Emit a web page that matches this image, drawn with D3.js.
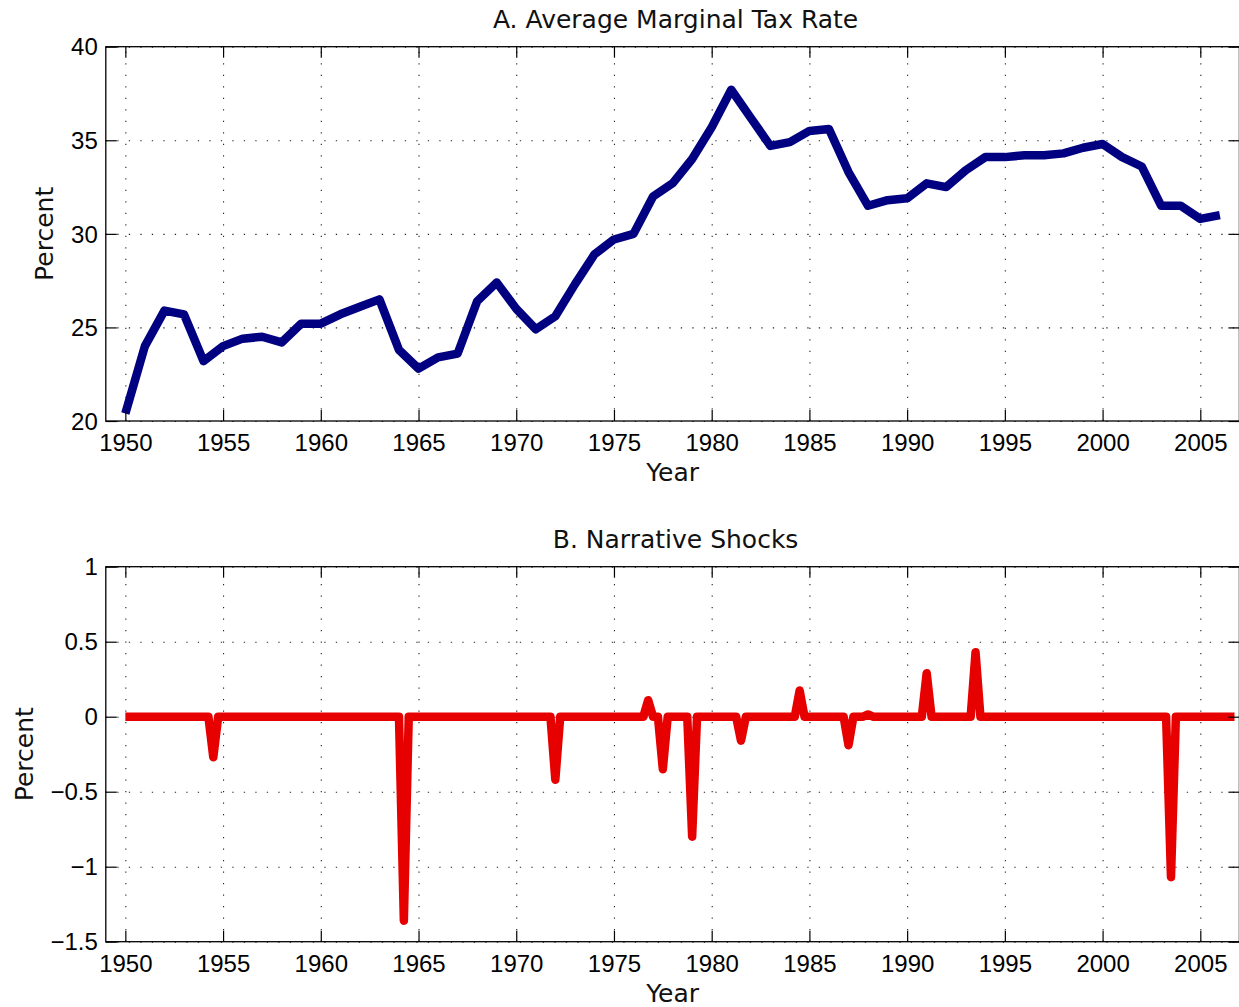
<!DOCTYPE html>
<html>
<head>
<meta charset="utf-8">
<script src="https://cdn.jsdelivr.net/npm/d3@7"></script>
<style>
  body { margin: 0; background: #fff; }
  .tick text { font-family: "Liberation Sans", Arial, sans-serif; font-size: 24px; fill: #000; }
  .label { font-family: "DejaVu Sans", sans-serif; font-size: 25px; fill: #111; }
  .grid line { stroke: #222; stroke-width: 1.1; stroke-dasharray: 1.3, 10.2; }
  .frame { fill: none; stroke: #000; stroke-width: 1.3; }
</style>
</head>
<body>
<div class="chart"></div>
<script>
// annual average marginal tax rate, 1950-2006
const years = d3.range(1950, 2007);
const amtr = [20.4, 24.0, 25.9, 25.7, 23.2, 24.0, 24.4, 24.5, 24.2, 25.2,
              25.2, 25.7, 26.1, 26.5, 23.8, 22.8, 23.4, 23.6, 26.4, 27.4,
              26.0, 24.9, 25.6, 27.3, 28.9, 29.7, 30.0, 32.0, 32.7, 34.0,
              35.7, 37.7, 36.2, 34.7, 34.9, 35.5, 35.6, 33.3, 31.5, 31.8,
              31.9, 32.7, 32.5, 33.4, 34.1, 34.1, 34.2, 34.2, 34.3, 34.6,
              34.8, 34.1, 33.6, 31.5, 31.5, 30.8, 31.0];

// quarterly narrative shocks (all other quarters are zero)
const shockDates  = ["1954Q3", "1964Q2", "1972Q1", "1976Q4", "1977Q3", "1979Q1", "1981Q3",
                     "1984Q3", "1987Q1", "1988Q1", "1991Q1", "1993Q3", "2003Q3"];
const shockValues = [-0.27, -1.36, -0.42, 0.11, -0.35, -0.80, -0.16,
                     0.175, -0.19, 0.015, 0.29, 0.43, -1.07];

const xTicks  = d3.range(1950, 2006, 5);
const yTicksA = [20, 25, 30, 35, 40];
const yTicksB = [-1.5, -1, -0.5, 0, 0.5, 1];

// build the quarterly table 1950Q1 .. 2006Q4
const shockMap = new Map(shockDates.map((d, i) => [d, shockValues[i]]));
const shocks = [];
years.forEach(y => {
  for (let q = 1; q <= 4; q++) {
    const v = shockMap.get(y + "Q" + q);
    shocks.push({ t: y + (q - 1) / 4, v: v === undefined ? 0 : v });
  }
});

const W = 1239, H = 1007;
const svg = d3.select(".chart").append("svg")
  .attr("width", W).attr("height", H);

const left = 105.8, right = 1239.4;
const x = d3.scaleLinear().domain([1949, 2007]).range([left, right]);

function panel(top, bottom, yDomain, yTicks, title, data, color) {
  const y = d3.scaleLinear().domain(yDomain).range([bottom, top]);
  const g = svg.append("g");
  const h = bottom - top, w = right - left;

  // dotted grid
  g.append("g").attr("class", "grid")
    .attr("transform", `translate(0,${bottom})`)
    .call(d3.axisBottom(x).tickValues(xTicks).tickSize(-h).tickFormat(""))
    .call(s => s.select(".domain").remove());
  g.append("g").attr("class", "grid")
    .attr("transform", `translate(${left},0)`)
    .call(d3.axisLeft(y).tickValues(yTicks).tickSize(-w).tickFormat(""))
    .call(s => s.select(".domain").remove());

  // data line
  const line = d3.line().x(d => x(d.t)).y(d => y(d.v));
  g.append("path")
    .datum(data)
    .attr("fill", "none")
    .attr("stroke", color)
    .attr("stroke-width", 8.5)
    .attr("stroke-linejoin", "round")
    .attr("d", line);

  // axes with inward ticks
  const tk = 11;
  const styleAxis = s => {
    s.select(".domain").remove();
    s.selectAll(".tick line").attr("stroke", "#000").attr("stroke-width", 1.2);
  };
  g.append("g").attr("transform", `translate(0,${bottom})`)
    .call(d3.axisBottom(x).tickValues(xTicks).tickSizeInner(-tk).tickSizeOuter(0)
      .tickPadding(13).tickFormat(d3.format("d")))
    .call(styleAxis);
  g.append("g").attr("transform", `translate(0,${top})`)
    .call(d3.axisTop(x).tickValues(xTicks).tickSizeInner(-tk).tickSizeOuter(0).tickFormat(""))
    .call(styleAxis);
  g.append("g").attr("transform", `translate(${left},0)`)
    .call(d3.axisLeft(y).tickValues(yTicks).tickSizeInner(-tk).tickSizeOuter(0)
      .tickPadding(8).tickFormat(d3.format("")))
    .call(styleAxis)
    .call(s => s.selectAll(".tick text").attr("dy", "0.34em"));
  g.append("g").attr("transform", `translate(${right},0)`)
    .call(d3.axisRight(y).tickValues(yTicks).tickSizeInner(-tk).tickSizeOuter(0).tickFormat(""))
    .call(styleAxis);

  g.append("rect").attr("class", "frame")
    .attr("x", left).attr("y", top).attr("width", w).attr("height", h);

  // titles and labels
  const cx = (left + right) / 2;
  g.append("text").attr("class", "label")
    .attr("x", cx + 3).attr("y", top - 19)
    .attr("text-anchor", "middle").text(title);
  g.append("text").attr("class", "label")
    .attr("x", cx).attr("y", bottom + 60)
    .attr("text-anchor", "middle").text("Year");
  return g;
}

panel(46.7, 421, [20, 40], yTicksA, "A. Average Marginal Tax Rate",
  years.map((t, i) => ({ t, v: amtr[i] })), "#000080")
  .append("text").attr("class", "label")
    .attr("transform", `translate(53,${(46.7 + 421) / 2}) rotate(-90)`)
    .attr("text-anchor", "middle").text("Percent");

panel(566.7, 941.7, [-1.5, 1], yTicksB, "B. Narrative Shocks", shocks, "#e60000")
  .append("text").attr("class", "label")
    .attr("transform", `translate(33,${(566.7 + 941.7) / 2}) rotate(-90)`)
    .attr("text-anchor", "middle").text("Percent");
</script>
</body>
</html>
